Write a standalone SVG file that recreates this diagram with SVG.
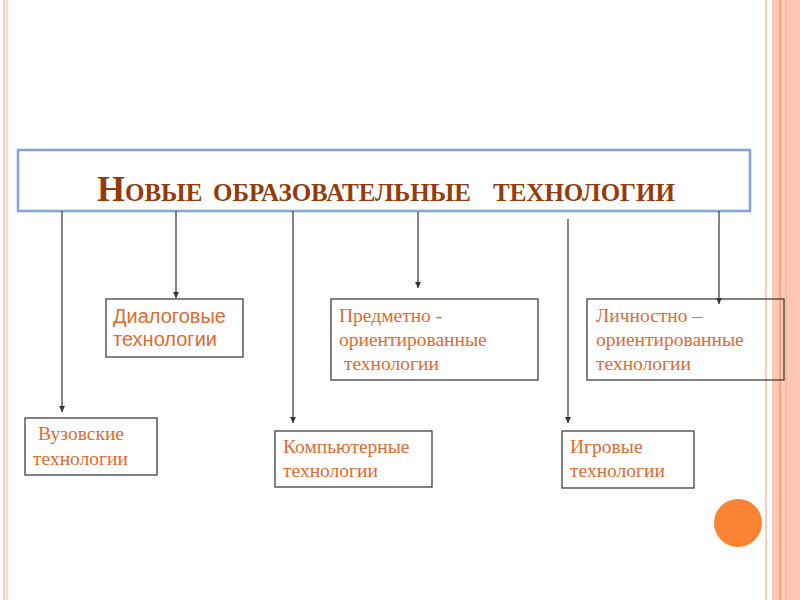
<svg xmlns="http://www.w3.org/2000/svg" width="800" height="600" viewBox="0 0 800 600">
<defs>
<style>
.box{fill:none;stroke:#404040;stroke-width:1.3}
.conn{stroke:#333;stroke-width:1.2;fill:none;marker-end:url(#ah)}
.serif{font-family:"Liberation Serif","Times New Roman",serif;font-size:19.5px;fill:#DE6B31}
.sans{font-family:"Liberation Sans",Arial,sans-serif;font-size:20px;fill:#DE6B31}
.title{font-family:"Liberation Serif","Times New Roman",serif;font-size:36px;font-weight:bold;fill:#923B0D;font-variant:small-caps}
</style>
<marker id="ah" viewBox="0 0 8 8" refX="8" refY="4" markerWidth="7" markerHeight="6" markerUnits="userSpaceOnUse" orient="auto">
<path d="M0,0 L8,4 L0,8 z" fill="#333"/>
</marker>
</defs>
<rect width="800" height="600" fill="#fff"/>
<g id="border">
<rect x="3" y="0" width="2" height="600" fill="#FCCDBE"/>
<rect x="6" y="0" width="2" height="600" fill="#FCD6C9"/>
<rect x="765" y="0" width="2" height="600" fill="#FCCDBE"/>
<rect x="772" y="0" width="28" height="600" fill="#FDC7B4"/>
<rect x="779" y="0" width="2" height="600" fill="#F4A684"/>
<rect x="785" y="0" width="2" height="600" fill="#F9BBA3"/>
</g>
<g id="title">
<rect x="18" y="150" width="732" height="61" fill="#fff" stroke="#86A2D8" stroke-width="2.5"/>
<text class="title" y="201"><tspan x="97">Новые</tspan><tspan x="213">образовательные</tspan><tspan x="493">технологии</tspan></text>
</g>
<g id="connectors">
<path class="conn" d="M62,211 V412"/>
<path class="conn" d="M176,211 V298"/>
<path class="conn" d="M293,211 V423"/>
<path class="conn" d="M418,212 V288"/>
<path class="conn" d="M568,219 V423"/>
<path class="conn" d="M719,211 V304"/>
</g>
<g id="dialog">
<rect class="box" x="106" y="299" width="137" height="58"/>
<text class="sans" x="113" y="323">Диалоговые</text>
<text class="sans" x="113" y="346">технологии</text>
</g>
<g id="vuz">
<rect class="box" x="25" y="418" width="132" height="57"/>
<text class="serif" x="33" y="440" xml:space="preserve"> Вузовские</text>
<text class="serif" x="33" y="465">технологии</text>
</g>
<g id="comp">
<rect class="box" x="275" y="431" width="157" height="56"/>
<text class="serif" x="283" y="453">Компьютерные</text>
<text class="serif" x="283" y="477">технологии</text>
</g>
<g id="predmet">
<rect class="box" x="331" y="299" width="207" height="81"/>
<text class="serif" x="339" y="322">Предметно -</text>
<text class="serif" x="339" y="346">ориентированные</text>
<text class="serif" x="339" y="370" xml:space="preserve"> технологии</text>
</g>
<g id="lichn">
<rect class="box" x="587" y="299" width="197" height="81"/>
<text class="serif" x="596" y="322">Личностно –</text>
<text class="serif" x="596" y="346">ориентированные</text>
<text class="serif" x="596" y="370">технологии</text>
</g>
<g id="igr">
<rect class="box" x="562" y="431" width="132" height="57"/>
<text class="serif" x="570" y="453">Игровые</text>
<text class="serif" x="570" y="477">технологии</text>
</g>
<circle id="dot" cx="738" cy="523" r="24" fill="#FB8334"/>
</svg>
